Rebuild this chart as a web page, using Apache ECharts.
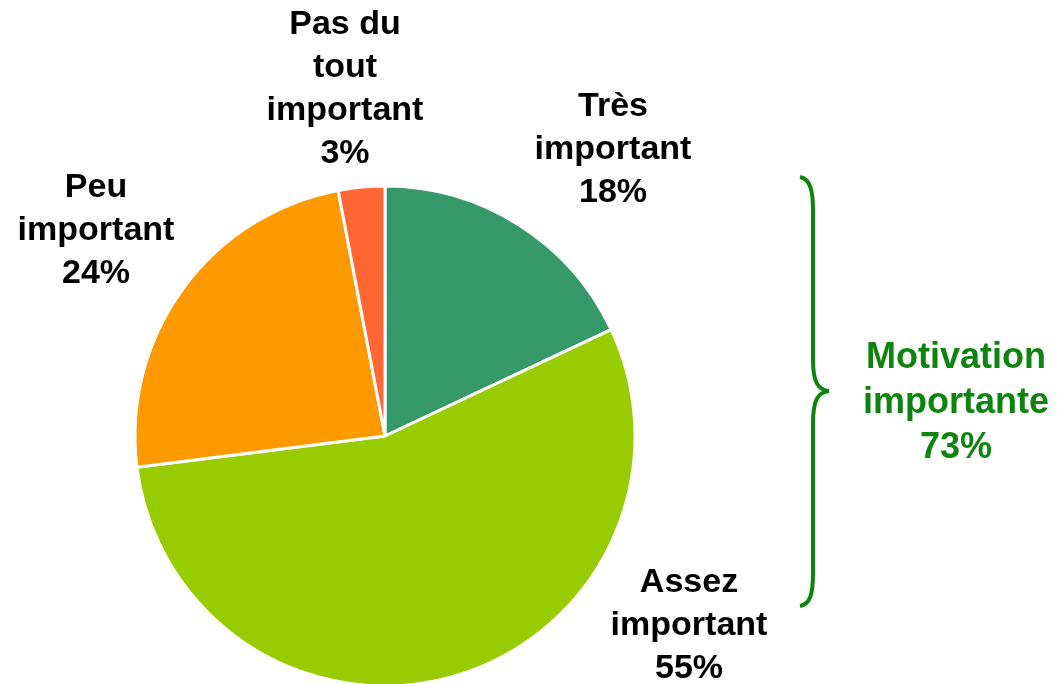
<!DOCTYPE html>
<html>
<head>
<meta charset="utf-8">
<script src="https://cdn.jsdelivr.net/npm/echarts@6/dist/echarts.min.js"></script>
<style>
  html, body { margin: 0; padding: 0; background: #fff; }
  #chart { width: 1057px; height: 684px; }
</style>
</head>
<body>
<div id="chart"></div>
<script>
// données du camembert (sens horaire depuis le haut)
var categories = ['Très\nimportant', 'Assez\nimportant', 'Peu\nimportant', 'Pas du\ntout\nimportant'];
var values = [18, 55, 24, 3];
var colors = ['#36996a', '#99cc00', '#ff9900', '#ff6633'];
var groupLabel = 'Motivation\nimportante\n73%';

// position des étiquettes (centre du bloc de texte)
var labelPos = [[613, 150], [689, 626], [96, 231], [345, 89]];

var braceColor = '#0e840e';
var braceStyle = { stroke: braceColor, lineWidth: 4, fill: null };

// accolade à droite du camembert
function curve(x1, y1, c1x, c1y, c2x, c2y, x2, y2) {
    return {
        type: 'bezierCurve',
        shape: { x1: x1, y1: y1, cpx1: c1x, cpy1: c1y, cpx2: c2x, cpy2: c2y, x2: x2, y2: y2 },
        style: braceStyle
    };
}
function segment(x1, y1, x2, y2) {
    return {
        type: 'line',
        shape: { x1: x1, y1: y1, x2: x2, y2: y2 },
        style: braceStyle
    };
}

var myChart = echarts.init(document.getElementById('chart'));
var option = {
    animation: false,
    color: colors,
    series: [
        {
            type: 'pie',
            center: [385, 436],
            radius: 250,
            startAngle: 90,
            clockwise: true,
            itemStyle: {
                borderColor: '#fff',
                borderWidth: 3
            },
            label: {
                show: true,
                position: 'outside',
                formatter: '{b}\n{c}%',
                fontFamily: '"Liberation Sans", Arial, sans-serif',
                fontWeight: 'bold',
                fontSize: 34,
                lineHeight: 43,
                color: '#000',
                align: 'center',
                overflow: 'none'
            },
            labelLine: { show: false },
            labelLayout: function (params) {
                var p = labelPos[params.dataIndex];
                return {
                    x: p[0],
                    y: p[1],
                    align: 'center',
                    verticalAlign: 'middle'
                };
            },
            data: categories.map(function (c, i) {
                return { name: c, value: values[i] };
            })
        }
    ],
    graphic: [
        curve(800, 177, 810, 179, 813, 190, 813, 210),
        segment(813, 210, 813, 360),
        curve(813, 360, 813, 382, 818, 390, 829, 391),
        curve(829, 391, 818, 392, 813, 400, 813, 423),
        segment(813, 423, 813, 573),
        curve(813, 573, 813, 595, 810, 604, 800, 606),
        {
            type: 'text',
            x: 956,
            y: 403,
            style: {
                text: groupLabel,
                align: 'center',
                verticalAlign: 'middle',
                fontFamily: '"Liberation Sans", Arial, sans-serif',
                fontWeight: 'bold',
                fontSize: 36,
                lineHeight: 45,
                fill: braceColor
            }
        }
    ]
};
myChart.setOption(option);
</script>
</body>
</html>
